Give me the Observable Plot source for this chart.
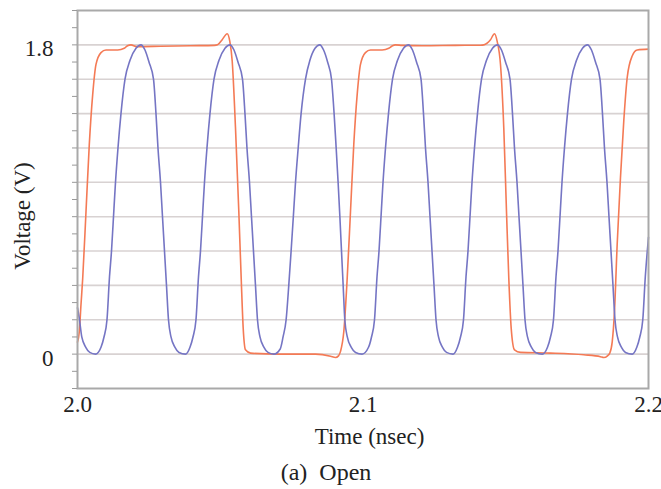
<!DOCTYPE html>
<html><head><meta charset="utf-8">
<script src="https://cdn.jsdelivr.net/npm/d3@7"></script>
<script src="https://cdn.jsdelivr.net/npm/@observablehq/plot@0.6"></script>
<style>
body{margin:0;background:#fff;}
#wrap{position:relative;width:661px;height:489px;font-family:"Liberation Serif","Times New Roman",serif;color:#222;}
#cap{position:absolute;left:0;width:652px;top:457px;text-align:center;font-size:24px;line-height:30px;white-space:pre;}
#ytitle{position:absolute;left:23px;top:216px;font-size:23px;line-height:24px;white-space:nowrap;transform:translate(-50%,-50%) rotate(-90deg);}
</style></head><body>
<div id="wrap"><div id="chart"></div><div id="ytitle"></div><div id="cap">(a)  Open</div></div>
<script>
// Blue trace (clock-like), time in ns, voltage in V
const blueTime = [
2.0000,2.0007,2.0015,2.0029,2.0043,2.0063,
2.00823,2.00928,2.01033,2.01121,2.01191,2.01278,2.01331,2.01418,2.01523,2.01664,2.01839,2.02049,2.02224,
2.02364,2.02504,2.02662,2.02749,2.02819,2.02907,2.02977,2.03047,2.03117,2.03187,2.03275,2.03415,2.03555,2.03783,
2.03940,2.04045,2.04150,2.04238,2.04308,2.04395,2.04448,2.04535,2.04640,2.04781,2.04956,2.05166,2.05341,
2.05481,2.05621,2.05779,2.05866,2.05936,2.06024,2.06094,2.06164,2.06234,2.06304,2.06392,2.06532,2.06672,2.06876,
2.0710,2.0720,2.07307,2.0740,2.07482,2.0756,2.07636,2.0773,2.07832,2.07986,2.0814,2.0832,2.08487,
2.0862,2.0876,2.08897,2.08988,2.0906,2.09128,2.0919,2.09247,2.09305,2.09363,2.0945,2.0959,2.0974,2.09968,
2.10193,2.10298,2.10403,2.10491,2.10561,2.10648,2.10701,2.10788,2.10893,2.11034,2.11209,2.11419,2.11594,
2.11734,2.11874,2.12032,2.12119,2.12189,2.12277,2.12347,2.12417,2.12487,2.12557,2.12645,2.12785,2.12925,2.13152,
2.13310,2.13415,2.13520,2.13608,2.13678,2.13765,2.13818,2.13905,2.14010,2.14151,2.14326,2.14536,2.14711,
2.14851,2.14991,2.15149,2.15236,2.15306,2.15394,2.15464,2.15534,2.15604,2.15674,2.15762,2.15902,2.16042,2.16277,
2.16462,2.16567,2.16672,2.16760,2.16830,2.16917,2.16970,2.17057,2.17162,2.17303,2.17478,2.17688,2.17863,
2.18003,2.18143,2.18301,2.18388,2.18458,2.18546,2.18616,2.18686,2.18756,2.18826,2.18914,2.19054,2.19194,2.19429,
2.1959,2.19695,2.1980,2.19888,2.19958,2.2000
];
const blueVoltage = [
0.27,0.2,0.1,0.04,0.01,0.0,
0.04,0.1,0.2,0.45,0.6,0.85,1.0,1.2,1.4,1.6,1.71,1.78,1.80,
1.77,1.70,1.6,1.4,1.2,1.0,0.8,0.6,0.4,0.2,0.1,0.04,0.01,0.0,
0.04,0.1,0.2,0.45,0.6,0.85,1.0,1.2,1.4,1.6,1.71,1.78,1.80,
1.77,1.70,1.6,1.4,1.2,1.0,0.8,0.6,0.4,0.2,0.1,0.04,0.01,0.0,
0.03,0.1,0.2,0.4,0.6,0.8,1.0,1.2,1.4,1.6,1.71,1.78,1.80,
1.77,1.70,1.6,1.4,1.2,1.0,0.8,0.6,0.4,0.2,0.1,0.04,0.01,0.0,
0.04,0.1,0.2,0.45,0.6,0.85,1.0,1.2,1.4,1.6,1.71,1.78,1.80,
1.77,1.70,1.6,1.4,1.2,1.0,0.8,0.6,0.4,0.2,0.1,0.04,0.01,0.0,
0.04,0.1,0.2,0.45,0.6,0.85,1.0,1.2,1.4,1.6,1.71,1.78,1.80,
1.77,1.70,1.6,1.4,1.2,1.0,0.8,0.6,0.4,0.2,0.1,0.04,0.01,0.0,
0.04,0.1,0.2,0.45,0.6,0.85,1.0,1.2,1.4,1.6,1.71,1.78,1.80,
1.77,1.70,1.6,1.4,1.2,1.0,0.8,0.6,0.4,0.2,0.1,0.04,0.01,0.0,
0.04,0.1,0.2,0.45,0.6,0.68
];
// Orange trace (divided output), time in ns, voltage in V
const orangeTime = [
2.0000,2.00063,2.00123,2.00182,2.00298,2.00413,2.00532,2.00648,2.00823,2.00998,2.01408,2.01639,2.01751,2.01874,
2.02067,2.02907,2.03958,2.04799,2.04904,2.05068,2.05243,2.05335,2.05419,2.05534,2.05650,2.05734,2.05804,2.05884,
2.06060,2.07110,2.08336,2.08862,2.09037,2.09142,2.09212,2.09327,2.09446,2.09562,2.09677,2.09796,2.09912,2.10086,
2.10262,2.10672,2.10903,2.11033,2.11138,2.11373,2.12073,2.13240,2.14115,2.14231,2.14466,2.14606,2.14700,2.14816,
2.14931,2.15026,2.15107,2.15191,2.15306,2.15517,2.16567,2.17734,2.18319,2.18434,2.18564,2.18644,2.18728,2.18809,
2.18903,2.19019,2.19135,2.19254,2.19429,2.19604,2.2000
];
const orangeVoltage = [
0.07,0.13,0.29,0.44,0.83,1.22,1.51,1.686,1.755,1.77,1.77,1.78,1.795,1.80,
1.79,1.792,1.795,1.797,1.80,1.83,1.865,1.82,1.705,1.317,0.83,0.44,0.15,0.025,
0.006,0.0,0.0,-0.012,-0.02,-0.01,0.016,0.13,0.44,0.83,1.22,1.51,1.686,1.755,
1.77,1.77,1.78,1.795,1.80,1.797,1.795,1.797,1.798,1.80,1.83,1.865,1.82,1.686,
1.317,0.83,0.44,0.15,0.025,0.01,0.006,-0.004,-0.015,-0.02,-0.01,0.006,0.07,0.25,
0.64,1.03,1.36,1.61,1.735,1.77,1.775
];
const xTicks = [2.0, 2.1, 2.2];
const yLabelTicks = [0, 1.8];
const yMinorTicks = [-0.2,-0.1,0,0.1,0.2,0.3,0.4,0.5,0.6,0.7,0.8,0.9,1.0,1.1,1.2,1.3,1.4,1.5,1.6,1.7,1.8,1.9,2.0];
const gridLevels = [0,0.2,0.4,0.6,0.8,1.0,1.2,1.4,1.6,1.8];
const xTitle = "Time (nsec)";
const yTitle = "Voltage (V)";

const blue = blueTime.map((t, i) => ({t, v: blueVoltage[i]}));
const orange = orangeTime.map((t, i) => ({t, v: orangeVoltage[i]}));
const FONT = '"Liberation Serif","Times New Roman",serif';

const chart = Plot.plot({
  width: 661, height: 452,
  marginLeft: 77, marginRight: 13, marginTop: 10, marginBottom: 64,
  style: {fontFamily: FONT, fontSize: "23px", color: "#222", background: "#fff", overflow: "visible"},
  x: {domain: [2.0, 2.2], label: null},
  y: {domain: [-0.2, 2.0], label: null},
  marks: [
    Plot.ruleY(gridLevels, {stroke: "#d8d2d2", strokeWidth: 1.6}),
    Plot.line(orange, {x: "t", y: "v", stroke: "#f47a55", strokeWidth: 1.6, curve: "monotone-x"}),
    Plot.line(blue, {x: "t", y: "v", stroke: "#7575c4", strokeWidth: 1.6, curve: "monotone-x"}),
    Plot.frame({stroke: "#a9a9a9", strokeWidth: 2}),
    Plot.axisY(yMinorTicks, {tickSize: 5, tickFormat: () => "", stroke: "#999", label: null}),
    Plot.axisY(yLabelTicks, {tickSize: 0, tickPadding: 24, tickFormat: d => d === 0 ? "0" : d.toFixed(1), dy: 4, label: null, fill: "#222", fontSize: 23, fontFamily: FONT}),
    Plot.axisX(xTicks, {tickSize: 0, tickPadding: 7, tickFormat: d => d.toFixed(1), label: null, fill: "#222", fontSize: 23, fontFamily: FONT}),
    Plot.text([xTitle], {frameAnchor: "bottom", dx: 6.5, dy: 48.6, lineAnchor: "middle", fill: "#222", fontSize: 23, fontFamily: FONT})
  ]
});
document.getElementById("chart").appendChild(chart);
document.getElementById("ytitle").textContent = yTitle;
</script>
</body></html>
